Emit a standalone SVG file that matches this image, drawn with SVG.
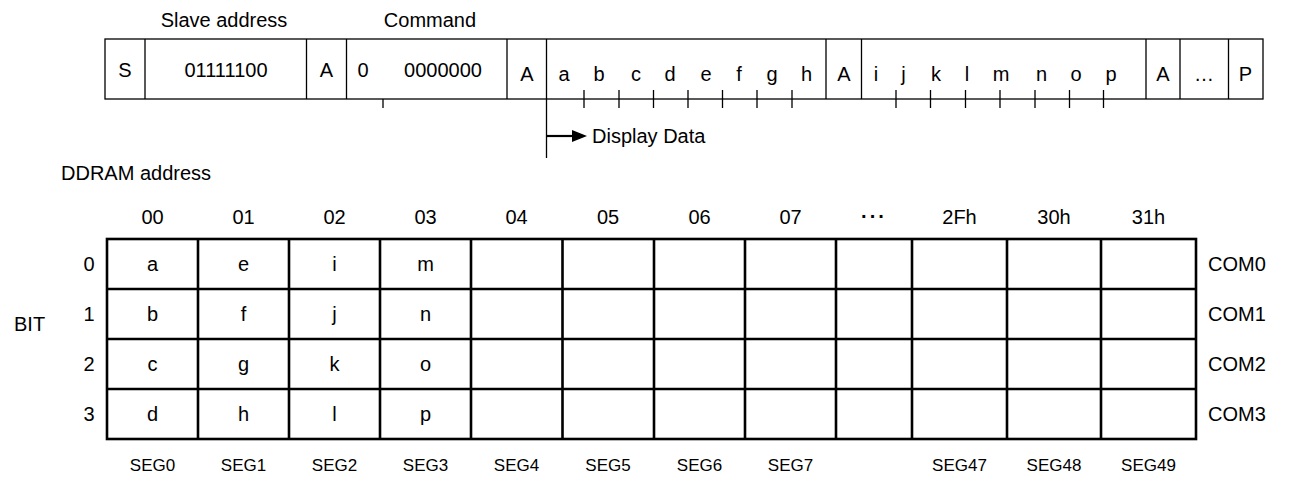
<svg xmlns="http://www.w3.org/2000/svg" width="1291" height="478" viewBox="0 0 1291 478">
  <style>
    text { font-family: "Liberation Sans", Arial, sans-serif; fill: #000; }
    .t { font-size: 20px; text-anchor: middle; }
    .lbl { font-size: 20px; }
    .seg { font-size: 17px; text-anchor: middle; }
    .bar { fill: none; stroke: #000; stroke-width: 1.3; }
    .thin { stroke: #000; stroke-width: 1.3; fill: none; }
    .grid { fill: none; stroke: #000; stroke-width: 2.6; }
  </style>
  <rect width="1291" height="478" fill="#fff"/>

  <!-- I2C transfer frame -->
  <g id="frame">
    <text class="t" x="224" y="27">Slave address</text>
    <text class="t" x="430" y="27">Command</text>
    <rect class="bar" x="105" y="39" width="1158" height="60"/>
    <path class="thin" d="M145 39V99M306.5 39V99M346.5 39V99M507 39V99M546.5 39V99M826 39V99M861.5 39V99M1146 39V99M1180 39V99M1228.5 39V99"/>
    <text class="t" x="125" y="77">S</text>
    <text class="t" x="226" y="77">01111100</text>
    <text class="t" x="326.5" y="77">A</text>
    <text class="t" x="363" y="77">0</text>
    <text class="t" x="443" y="77">0000000</text>
    <text class="t" x="527" y="81">A</text>
    <text class="t" x="564" y="81">a</text>
    <text class="t" x="599" y="81">b</text>
    <text class="t" x="636" y="81">c</text>
    <text class="t" x="670" y="81">d</text>
    <text class="t" x="706" y="81">e</text>
    <text class="t" x="739" y="81">f</text>
    <text class="t" x="772" y="81">g</text>
    <text class="t" x="806.5" y="81">h</text>
    <text class="t" x="844" y="81">A</text>
    <text class="t" x="876" y="81">i</text>
    <text class="t" x="903.5" y="81">j</text>
    <text class="t" x="936" y="81">k</text>
    <text class="t" x="967" y="81">l</text>
    <text class="t" x="1001" y="81">m</text>
    <text class="t" x="1041.5" y="81">n</text>
    <text class="t" x="1076" y="81">o</text>
    <text class="t" x="1111" y="81">p</text>
    <text class="t" x="1163" y="81">A</text>
    <text class="t" x="1204" y="81">…</text>
    <text class="t" x="1245.5" y="81">P</text>
  </g>

  <!-- bit ticks and display-data marker -->
  <g id="connectors">
    <path class="thin" d="M383 99V108"/>
    <path class="thin" d="M584 90V108M619 90V108M653.5 90V108M688 90V108M722.5 90V108M757 90V108M792 90V108"/>
    <path class="thin" d="M896 90V108M930.5 90V108M965.5 90V108M1000 90V108M1035 90V108M1069.5 90V108M1103.5 90V108"/>
    <path class="thin" d="M546.5 99V158"/>
    <path d="M546.5 136H574" stroke="#000" stroke-width="2.2"/>
    <polygon points="572,130 587,136 572,142" fill="#000"/>
  </g>
  <g id="display-data">
    <text class="lbl" x="592" y="143">Display Data</text>
  </g>

  <!-- DDRAM map -->
  <g id="ddram-title">
    <text class="lbl" x="61" y="180">DDRAM address</text>
  </g>

  <g id="addresses">
    <text class="t" x="152.5" y="224">00</text>
    <text class="t" x="243.5" y="224">01</text>
    <text class="t" x="334.5" y="224">02</text>
    <text class="t" x="425.5" y="224">03</text>
    <text class="t" x="516.5" y="224">04</text>
    <text class="t" x="608" y="224">05</text>
    <text class="t" x="699.5" y="224">06</text>
    <text class="t" x="790.5" y="224">07</text>
    <text class="t" x="874" y="223" font-weight="bold" letter-spacing="2">···</text>
    <text class="t" x="959.5" y="224">2Fh</text>
    <text class="t" x="1054" y="224">30h</text>
    <text class="t" x="1148.5" y="224">31h</text>
  </g>

  <g id="bits">
    <text class="lbl" x="14" y="331">BIT</text>
    <text class="t" x="89" y="271">0</text>
    <text class="t" x="89" y="321">1</text>
    <text class="t" x="89" y="371">2</text>
    <text class="t" x="89" y="421">3</text>
  </g>

  <g id="grid">
    <rect class="grid" x="107" y="239" width="1089" height="200"/>
    <path class="grid" d="M107 289H1196M107 339H1196M107 389H1196"/>
    <path class="grid" d="M198 239V439M289 239V439M380 239V439M471 239V439M562.5 239V439M654 239V439M745 239V439M836 239V439M912 239V439M1007 239V439M1101 239V439"/>
    <text class="t" x="152.5" y="271">a</text>
    <text class="t" x="152.5" y="321">b</text>
    <text class="t" x="152.5" y="371">c</text>
    <text class="t" x="152.5" y="421">d</text>
    <text class="t" x="243.5" y="271">e</text>
    <text class="t" x="243.5" y="321">f</text>
    <text class="t" x="243.5" y="371">g</text>
    <text class="t" x="243.5" y="421">h</text>
    <text class="t" x="334.5" y="271">i</text>
    <text class="t" x="334.5" y="321">j</text>
    <text class="t" x="334.5" y="371">k</text>
    <text class="t" x="334.5" y="421">l</text>
    <text class="t" x="425.5" y="271">m</text>
    <text class="t" x="425.5" y="321">n</text>
    <text class="t" x="425.5" y="371">o</text>
    <text class="t" x="425.5" y="421">p</text>
  </g>

  <g id="commons">
    <text class="lbl" x="1208" y="271">COM0</text>
    <text class="lbl" x="1208" y="321">COM1</text>
    <text class="lbl" x="1208" y="371">COM2</text>
    <text class="lbl" x="1208" y="421">COM3</text>
  </g>

  <g id="segments">
    <text class="seg" x="152.5" y="471">SEG0</text>
    <text class="seg" x="243.5" y="471">SEG1</text>
    <text class="seg" x="334.5" y="471">SEG2</text>
    <text class="seg" x="425.5" y="471">SEG3</text>
    <text class="seg" x="516.5" y="471">SEG4</text>
    <text class="seg" x="608" y="471">SEG5</text>
    <text class="seg" x="699.5" y="471">SEG6</text>
    <text class="seg" x="790.5" y="471">SEG7</text>
    <text class="seg" x="959.5" y="471">SEG47</text>
    <text class="seg" x="1054" y="471">SEG48</text>
    <text class="seg" x="1148.5" y="471">SEG49</text>
  </g>
</svg>
